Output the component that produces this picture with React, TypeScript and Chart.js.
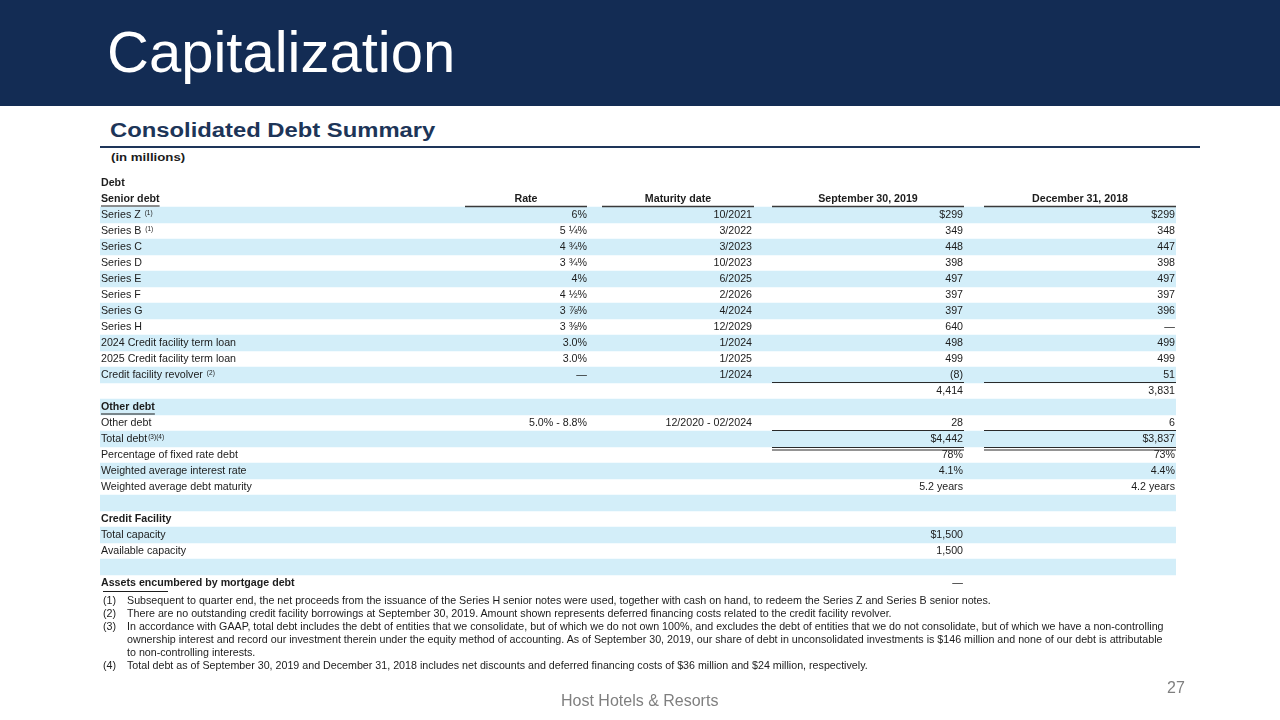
import React, { useEffect, useRef } from "react";
import { Chart, registerables } from "chart.js";

Chart.register(...registerables);

// ---------- DATA ----------
const rowLabels = [
  "Debt",
  "Senior debt",
  "Series Z",
  "Series B",
  "Series C",
  "Series D",
  "Series E",
  "Series F",
  "Series G",
  "Series H",
  "2024 Credit facility term loan",
  "2025 Credit facility term loan",
  "Credit facility revolver",
  "",
  "Other debt",
  "Other debt",
  "Total debt",
  "Percentage of fixed rate debt",
  "Weighted average interest rate",
  "Weighted average debt maturity",
  "",
  "Credit Facility",
  "Total capacity",
  "Available capacity",
  "",
  "Assets encumbered by mortgage debt",
];

const rowNotes = [
  "", "", "(1)", "(1)", "", "", "", "", "", "", "", "", "(2)", "",
  "", "", "(3)(4)", "", "", "", "", "", "", "", "", "",
];

const columnHeaders = ["Rate", "Maturity date", "September 30, 2019", "December 31, 2018"];

const rates = [
  "", "", "6%", "5 ¼%", "4 ¾%", "3 ¾%", "4%", "4 ½%", "3 ⅞%", "3 ⅜%", "3.0%", "3.0%", "—", "",
  "", "5.0% - 8.8%", "", "", "", "", "", "", "", "", "", "",
];

const maturities = [
  "", "", "10/2021", "3/2022", "3/2023", "10/2023", "6/2025", "2/2026", "4/2024", "12/2029",
  "1/2024", "1/2025", "1/2024", "", "", "12/2020 - 02/2024", "", "", "", "", "", "", "", "", "", "",
];

const sep2019 = [
  "", "", "$299", "349", "448", "398", "497", "397", "397", "640", "498", "499", "(8)", "4,414",
  "", "28", "$4,442", "78%", "4.1%", "5.2 years", "", "", "$1,500", "1,500", "", "—",
];

const dec2018 = [
  "", "", "$299", "348", "447", "398", "497", "397", "396", "—", "499", "499", "51", "3,831",
  "", "6", "$3,837", "73%", "4.4%", "4.2 years", "", "", "", "", "", "",
];

const stripeRows = [2, 4, 6, 8, 10, 12, 14, 16, 18, 20, 22, 24];
const boldRows = [0, 1, 14, 21, 25];
const underlinedRows = [1, 14];

const footnoteNumbers = ["(1)", "(2)", "(3)", "(4)"];
const footnoteLines = [
  ["Subsequent to quarter end, the net proceeds from the issuance of the Series H senior notes were used, together with cash on hand, to redeem the Series Z and Series B senior notes."],
  ["There are no outstanding credit facility borrowings at September 30, 2019. Amount shown represents deferred financing costs related to the credit facility revolver."],
  [
    "In accordance with GAAP, total debt includes the debt of entities that we consolidate, but of which we do not own 100%, and excludes the debt of entities that we do not consolidate, but of which we have a non-controlling",
    "ownership interest and record our investment therein under the equity method of accounting. As of September 30, 2019, our share of debt in unconsolidated investments is $146 million  and none of our debt is attributable",
    "to non-controlling interests.",
  ],
  ["Total debt as of September 30, 2019 and December 31, 2018 includes net discounts and deferred financing costs of $36 million and $24 million,  respectively."],
];

// ---------- STYLE / LAYOUT ----------
const FONT = '"Liberation Sans", Arial, Helvetica, sans-serif';
const FS = 10.67;
const LABEL_X = 101;
const COL_RIGHT = [587, 752, 963, 1175];
const COL_SEG = [
  [465, 587],
  [602, 754],
  [772, 964],
  [984, 1176],
];
const TEXT_COLOR = "#1c1c1c";

const tablePlugin = {
  id: "debtTable",
  afterDatasetsDraw(chart: any) {
    const { ctx, scales } = chart;
    const y = scales.y;
    const rowH = Math.abs(y.getPixelForValue(1) - y.getPixelForValue(0));
    const font = (w: string, s: number) => `${w} ${s}px ${FONT}`;
    const hline = (x1: number, x2: number, yy: number, lw = 1, color = "#2a2a2a") => {
      ctx.beginPath();
      ctx.strokeStyle = color;
      ctx.lineWidth = lw;
      ctx.moveTo(x1, yy);
      ctx.lineTo(x2, yy);
      ctx.stroke();
    };
    ctx.save();
    ctx.textBaseline = "middle";
    rowLabels.forEach((label, i) => {
      const cy = y.getPixelForValue(i) + 0.5;
      const bold = boldRows.includes(i);
      ctx.fillStyle = TEXT_COLOR;
      ctx.textAlign = "left";
      ctx.font = font(bold ? "bold" : "normal", FS);
      if (label) {
        ctx.fillText(label, LABEL_X, cy);
        const w = ctx.measureText(label).width;
        if (underlinedRows.includes(i)) hline(LABEL_X, LABEL_X + w, cy + 6.5, 1, "#1c1c1c");
        if (rowNotes[i]) {
          ctx.font = font("normal", 6.5);
          ctx.fillText(rowNotes[i], LABEL_X + w + (i === 16 ? 1 : 4), cy - 2.5);
        }
      }
      ctx.textAlign = "right";
      ctx.font = font("normal", FS);
      [rates, maturities, sep2019, dec2018].forEach((col, c) => {
        if (col[i]) ctx.fillText(col[i], COL_RIGHT[c], cy);
      });
    });

    // column headers on the "Senior debt" row
    const hy = y.getPixelForValue(1) + 0.5;
    ctx.textAlign = "center";
    ctx.font = font("bold", FS);
    columnHeaders.forEach((h, c) => {
      const [a, b] = COL_SEG[c];
      ctx.fillText(h, (a + b) / 2, hy);
      hline(a, b, y.getPixelForValue(1) + rowH / 2 - 0.5, 1.5, "#3a3a3a");
    });

    // subtotal rules
    const bottom = (i: number) => y.getPixelForValue(i) + rowH / 2;
    [2, 3].forEach((c) => {
      const [a, b] = COL_SEG[c];
      hline(a, b, bottom(12) - 0.5, 1);
      hline(a, b, bottom(15) - 0.5, 1);
      hline(a, b, bottom(16) + 0.5, 1);
      hline(a, b, bottom(16) + 3, 1);
    });
    hline(103, 168, bottom(25) + 0.5, 1, "#1c1c1c");
    ctx.restore();
  },
};

export default function App() {
  const canvasRef = useRef<HTMLCanvasElement | null>(null);

  useEffect(() => {
    const canvas = canvasRef.current;
    if (!canvas) return;
    const chart = new Chart(canvas, {
      type: "bar",
      data: {
        labels: rowLabels.map((l, i) => l || `row${i}`),
        datasets: [
          {
            data: rowLabels.map((_, i) => (stripeRows.includes(i) ? 1 : null)),
            backgroundColor: "#D3EEF9",
            borderWidth: 0,
            barPercentage: 1,
            categoryPercentage: 1,
          },
        ],
      },
      options: {
        indexAxis: "y",
        animation: false,
        responsive: false,
        events: [],
        layout: { padding: { left: 100, right: 104, top: 175, bottom: 129 } },
        scales: {
          x: { display: false, min: 0, max: 1 },
          y: { display: false },
        },
        plugins: { legend: { display: false }, tooltip: { enabled: false } },
      },
      plugins: [tablePlugin],
    } as any);
    return () => chart.destroy();
  }, []);

  const abs = (extra: React.CSSProperties): React.CSSProperties => ({
    position: "absolute",
    whiteSpace: "nowrap",
    fontFamily: FONT,
    ...extra,
  });

  return (
    <div style={{ position: "fixed", left: 0, top: 0, width: 1280, height: 720, background: "#fff", overflow: "hidden" }}>
      <div style={{ position: "absolute", left: 0, top: 0, width: 1280, height: 106, background: "#132C54" }} />
      <div style={abs({ left: 107, top: 23, fontSize: 58, lineHeight: "58px", color: "#fff" })}>Capitalization</div>
      <div
        style={abs({
          left: 110,
          top: 120,
          fontSize: 20,
          lineHeight: "20px",
          fontWeight: "bold",
          color: "#1D3558",
          transform: "scaleX(1.19)",
          transformOrigin: "left top",
        })}
      >
        Consolidated Debt Summary
      </div>
      <div style={{ position: "absolute", left: 100, top: 146, width: 1100, height: 2, background: "#1E3559" }} />
      <div
        style={abs({
          left: 111,
          top: 152,
          fontSize: 11.5,
          lineHeight: "11.5px",
          fontWeight: "bold",
          color: "#1c1c1c",
          transform: "scaleX(1.15)",
          transformOrigin: "left top",
        })}
      >
        (in millions)
      </div>
      <canvas ref={canvasRef} width={1280} height={720} style={{ position: "absolute", left: 0, top: 0, width: 1280, height: 720 }} />
      <div style={abs({ left: 103, top: 594, fontSize: 10.7, lineHeight: "13px", color: "#1c1c1c" })}>
        {footnoteNumbers.map((n, k) => (
          <div key={n} style={{ display: "flex" }}>
            <div style={{ width: 24 }}>{n}</div>
            <div>
              {footnoteLines[k].map((line, j) => (
                <div key={j}>{line}</div>
              ))}
            </div>
          </div>
        ))}
      </div>
      <div style={abs({ left: 561, top: 693, fontSize: 16, lineHeight: "16px", color: "#7F7F7F" })}>Host Hotels &amp; Resorts</div>
      <div style={abs({ left: 1167, top: 680, fontSize: 16, lineHeight: "16px", color: "#7F7F7F" })}>27</div>
    </div>
  );
}
